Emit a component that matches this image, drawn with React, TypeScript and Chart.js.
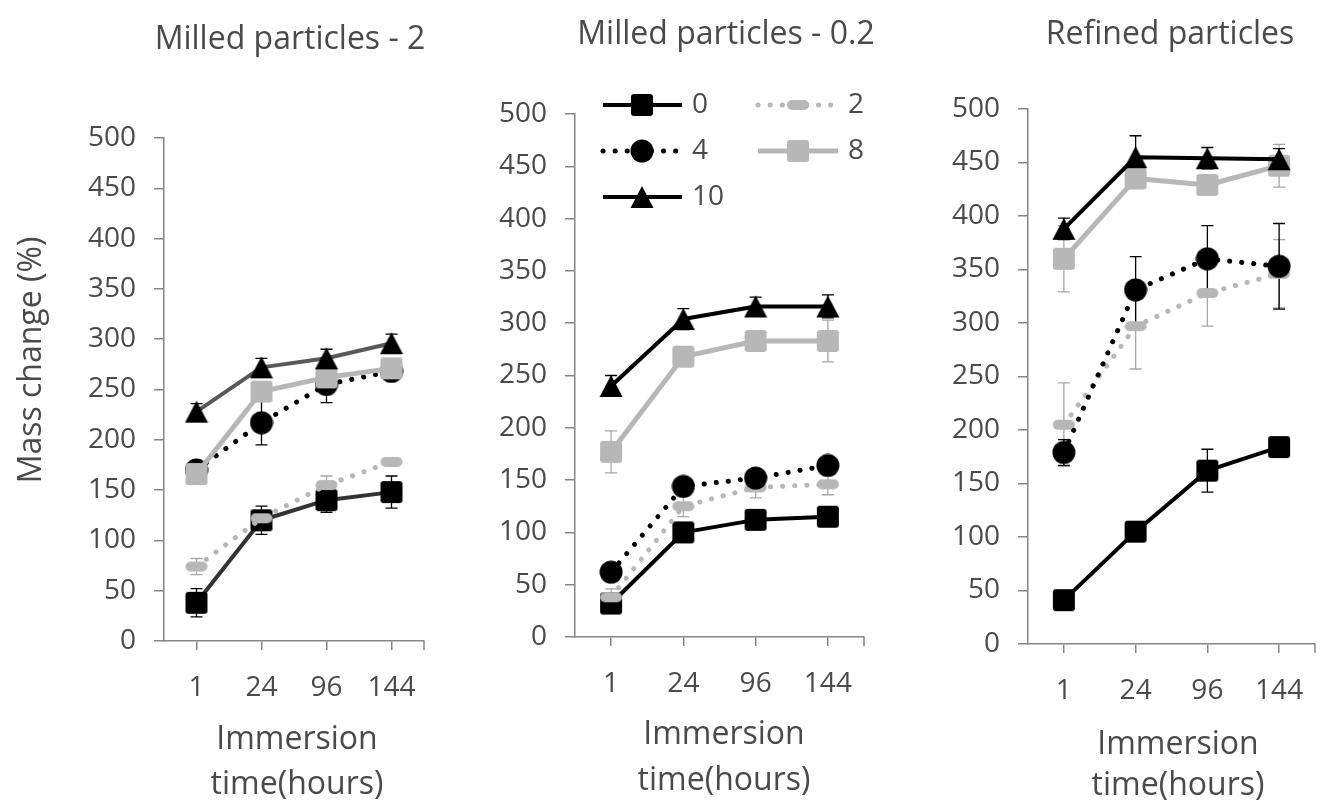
import React, { useEffect, useRef } from 'react';
import { Chart, registerables } from 'chart.js';

Chart.register(...registerables);

// ---------------- data ----------------
const categories = ['1', '24', '96', '144'];
const seriesNames = ['0', '2', '4', '8', '10'];
const yMin = 0;
const yMax = 500;
const yStep = 50;

const panelTitles = ['Milled particles - 2', 'Milled particles - 0.2', 'Refined particles'];
const yAxisTitle = 'Mass change (%)';
const xAxisTitleLines = ['Immersion', 'time(hours)'];

// Milled particles - 2
const milled2_0 = [38, 120, 140, 148];
const milled2_2 = [74, 122, 155, 178];
const milled2_4 = [170, 217, 255, 268];
const milled2_8 = [166, 248, 262, 271];
const milled2_10 = [228, 272, 281, 296];
const milled2_err0 = [14, 14, 12, 16];
const milled2_err2 = [8, 6, 9, 4];
const milled2_err4 = [6, 22, 18, 5];
const milled2_err8 = [5, 6, 6, 5];
const milled2_err10 = [8, 9, 9, 9];

// Milled particles - 0.2
const milled02_0 = [32, 100, 112, 115];
const milled02_2 = [38, 125, 143, 146];
const milled02_4 = [62, 144, 152, 164];
const milled02_8 = [177, 268, 283, 283];
const milled02_10 = [240, 304, 316, 316];
const milled02_err0 = [5, 5, 5, 5];
const milled02_err2 = [8, 10, 10, 10];
const milled02_err4 = [5, 5, 5, 5];
const milled02_err8 = [20, 6, 6, 20];
const milled02_err10 = [10, 10, 9, 11];

// Refined particles
const refined_0 = [41, 105, 162, 184];
const refined_2 = [205, 297, 328, 346];
const refined_4 = [179, 331, 360, 353];
const refined_8 = [360, 435, 429, 447];
const refined_10 = [388, 455, 454, 453];
const refined_err0 = [4, 5, 20, 4];
const refined_err2 = [39, 40, 31, 32];
const refined_err4 = [12, 31, 31, 40];
const refined_err8 = [31, 6, 6, 20];
const refined_err10 = [10, 20, 10, 10];

const panelValues = [
  [milled2_0, milled2_2, milled2_4, milled2_8, milled2_10],
  [milled02_0, milled02_2, milled02_4, milled02_8, milled02_10],
  [refined_0, refined_2, refined_4, refined_8, refined_10],
];
const panelErrors = [
  [milled2_err0, milled2_err2, milled2_err4, milled2_err8, milled2_err10],
  [milled02_err0, milled02_err2, milled02_err4, milled02_err8, milled02_err10],
  [refined_err0, refined_err2, refined_err4, refined_err8, refined_err10],
];

// ---------------- styles / layout ----------------
const FONT = '"Open Sans", "DejaVu Sans", sans-serif';
const TEXT_COLOR = '#4a4a4a';
const AXIS_COLOR = '#868686';
const GRAY = '#b7b7b7';
const H = 805;

type MarkerKind = 'square' | 'dash' | 'circle' | 'triangle';
const markerKinds: MarkerKind[] = ['square', 'dash', 'circle', 'square', 'triangle'];
const markerColors = ['#000000', GRAY, '#000000', GRAY, '#000000'];
const lineWidths = [4, 5, 5, 5, 4];
const lineDashes: number[][] = [[], [0.1, 12], [0.1, 12], [], []];
const errColors = ['#000000', '#a6a6a6', '#000000', '#a6a6a6', '#000000'];
const panelLineColors = [
  ['#333333', GRAY, '#000000', GRAY, '#595959'],
  ['#000000', GRAY, '#000000', GRAY, '#000000'],
  ['#000000', GRAY, '#000000', GRAY, '#000000'],
];

const LAYOUT = [
  { left: 0, width: 440, plotL: 164, plotR: 429, plotT: 138, plotB: 641, titleX: 290, titleY: 40, xTitleX: 297, xTitleY: [740, 785] },
  { left: 440, width: 440, plotL: 575, plotR: 873, plotT: 114, plotB: 637, titleX: 726, titleY: 35, xTitleX: 724, xTitleY: [735, 781] },
  { left: 880, width: 451, plotL: 1028, plotR: 1326, plotT: 109, plotB: 644, titleX: 1170, titleY: 35, xTitleX: 1178, xTitleY: [745, 786] },
];

// legend slots (page coords) for panel 2
const LEGEND_COLS = [
  { x1: 603, x2: 682, mx: 642, tx: 692 },
  { x1: 758, x2: 838, mx: 798, tx: 848 },
];
const LEGEND_ROWS = [105, 151, 197];
const LEGEND_SLOTS = [
  [0, 0],
  [1, 0],
  [0, 1],
  [1, 1],
  [0, 2],
];

function makeMarker(kind: MarkerKind, color: string): HTMLCanvasElement {
  const c = document.createElement('canvas');
  const w = kind === 'dash' ? 24 : 24;
  const h = kind === 'dash' ? 12 : 24;
  c.width = w;
  c.height = h;
  const g = c.getContext('2d') as CanvasRenderingContext2D;
  g.fillStyle = color;
  g.beginPath();
  if (kind === 'square') {
    (g as any).roundRect(1, 1, 22, 22, 3);
  } else if (kind === 'dash') {
    (g as any).roundRect(1, 1, 22, 10, 5);
  } else if (kind === 'circle') {
    g.arc(12, 12, 11.5, 0, Math.PI * 2);
  } else {
    g.moveTo(12, 1);
    g.lineTo(23.5, 23);
    g.lineTo(0.5, 23);
    g.closePath();
  }
  g.fill();
  return c;
}

function buildChart(canvas: HTMLCanvasElement, p: number, markers: HTMLCanvasElement[]) {
  const L = LAYOUT[p];
  const datasets = seriesNames.map((name, i) => ({
    label: name,
    data: panelValues[p][i],
    errors: panelErrors[p][i],
    borderColor: panelLineColors[p][i],
    backgroundColor: markerColors[i],
    borderWidth: lineWidths[i],
    borderDash: lineDashes[i],
    borderCapStyle: lineDashes[i].length ? 'round' : 'butt',
    borderJoinStyle: 'round',
    pointStyle: markers[i],
    pointRadius: 11,
    pointHoverRadius: 11,
    fill: false,
    tension: 0,
    order: seriesNames.length - i,
  }));

  const errorBars = {
    id: 'errorBars',
    beforeDatasetsDraw(chart: any) {
      const ctx = chart.ctx as CanvasRenderingContext2D;
      const ys = chart.scales.y;
      chart.data.datasets.forEach((ds: any, di: number) => {
        const meta = chart.getDatasetMeta(di);
        meta.data.forEach((pt: any, j: number) => {
          const v = ds.data[j];
          const e = ds.errors[j];
          const yTop = ys.getPixelForValue(v + e);
          const yBot = ys.getPixelForValue(v - e);
          ctx.save();
          ctx.strokeStyle = errColors[di];
          ctx.lineWidth = 1.3;
          ctx.beginPath();
          ctx.moveTo(pt.x, yTop);
          ctx.lineTo(pt.x, yBot);
          ctx.moveTo(pt.x - 6, yTop);
          ctx.lineTo(pt.x + 6, yTop);
          ctx.moveTo(pt.x - 6, yBot);
          ctx.lineTo(pt.x + 6, yBot);
          ctx.stroke();
          ctx.restore();
        });
      });
    },
  };

  const texts = {
    id: 'panelTexts',
    afterDraw(chart: any) {
      const ctx = chart.ctx as CanvasRenderingContext2D;
      const area = chart.chartArea;
      ctx.save();
      // right end tick of x axis
      ctx.strokeStyle = AXIS_COLOR;
      ctx.lineWidth = 1.5;
      ctx.beginPath();
      ctx.moveTo(area.right, area.bottom);
      ctx.lineTo(area.right, area.bottom + 9);
      ctx.stroke();

      ctx.fillStyle = TEXT_COLOR;
      ctx.textAlign = 'center';
      ctx.textBaseline = 'middle';
      ctx.font = `32px ${FONT}`;
      ctx.fillText(panelTitles[p], L.titleX - L.left, L.titleY);
      xAxisTitleLines.forEach((line, k) => {
        ctx.fillText(line, L.xTitleX - L.left, L.xTitleY[k]);
      });
      if (p === 0) {
        ctx.save();
        ctx.translate(32, 360);
        ctx.rotate(-Math.PI / 2);
        ctx.fillText(yAxisTitle, 0, 0);
        ctx.restore();
      }
      if (p === 1) {
        chart.data.datasets.forEach((ds: any, i: number) => {
          const [c, r] = LEGEND_SLOTS[i];
          const col = LEGEND_COLS[c];
          const y = LEGEND_ROWS[r];
          ctx.save();
          ctx.strokeStyle = ds.borderColor;
          ctx.lineWidth = ds.borderWidth;
          ctx.setLineDash(ds.borderDash);
          ctx.lineCap = ds.borderDash.length ? 'round' : 'butt';
          ctx.beginPath();
          ctx.moveTo(col.x1 - L.left, y);
          ctx.lineTo(col.x2 - L.left, y);
          ctx.stroke();
          ctx.restore();
          const m = ds.pointStyle as HTMLCanvasElement;
          ctx.drawImage(m, col.mx - L.left - m.width / 2, y - m.height / 2);
          ctx.save();
          ctx.textAlign = 'left';
          ctx.font = `28px ${FONT}`;
          ctx.fillStyle = TEXT_COLOR;
          ctx.fillText(ds.label, col.tx - L.left, y);
          ctx.restore();
        });
      }
      ctx.restore();
    },
  };

  const yWidth = L.plotL - L.left;
  const xHeight = H - L.plotB;

  return new Chart(canvas, {
    type: 'line',
    data: { labels: categories, datasets: datasets as any },
    options: {
      responsive: false,
      maintainAspectRatio: false,
      devicePixelRatio: 1,
      animation: false,
      events: [],
      layout: {
        padding: { left: 0, top: L.plotT, right: L.width - (L.plotR - L.left), bottom: 0 },
      },
      plugins: {
        legend: { display: false },
        title: { display: false },
        tooltip: { enabled: false },
      },
      scales: {
        x: {
          type: 'category',
          offset: true,
          grid: {
            display: true,
            drawOnChartArea: false,
            drawTicks: true,
            tickLength: 9,
            color: AXIS_COLOR,
            lineWidth: 1.5,
            offset: false,
          },
          border: { display: true, color: AXIS_COLOR, width: 1.5 },
          ticks: {
            font: { family: FONT, size: 28 },
            color: TEXT_COLOR,
            padding: 21,
            maxRotation: 0,
            autoSkip: false,
          },
          afterFit: (scale: any) => {
            scale.height = xHeight;
          },
        },
        y: {
          type: 'linear',
          min: yMin,
          max: yMax,
          grid: {
            display: true,
            drawOnChartArea: false,
            drawTicks: true,
            tickLength: 10,
            color: AXIS_COLOR,
            lineWidth: 1.5,
          },
          border: { display: true, color: AXIS_COLOR, width: 1.5 },
          ticks: {
            stepSize: yStep,
            font: { family: FONT, size: 28 },
            color: TEXT_COLOR,
            padding: 18,
          },
          afterFit: (scale: any) => {
            scale.width = yWidth;
          },
        },
      },
    } as any,
    plugins: [errorBars, texts],
  });
}

export default function App() {
  const r0 = useRef<HTMLCanvasElement>(null);
  const r1 = useRef<HTMLCanvasElement>(null);
  const r2 = useRef<HTMLCanvasElement>(null);

  useEffect(() => {
    const markers = markerKinds.map((k, i) => makeMarker(k, markerColors[i]));
    const refs = [r0, r1, r2];
    const charts = refs.map((r, p) => buildChart(r.current as HTMLCanvasElement, p, markers));
    return () => charts.forEach((c) => c.destroy());
  }, []);

  const refs = [r0, r1, r2];
  return (
    <div
      style={{
        position: 'absolute',
        left: 0,
        top: 0,
        width: 1331,
        height: H,
        overflow: 'hidden',
        background: '#ffffff',
      }}
    >
      {LAYOUT.map((l, i) => (
        <canvas
          key={i}
          ref={refs[i]}
          width={l.width}
          height={H}
          style={{ position: 'absolute', left: l.left, top: 0, width: l.width, height: H }}
        />
      ))}
    </div>
  );
}
